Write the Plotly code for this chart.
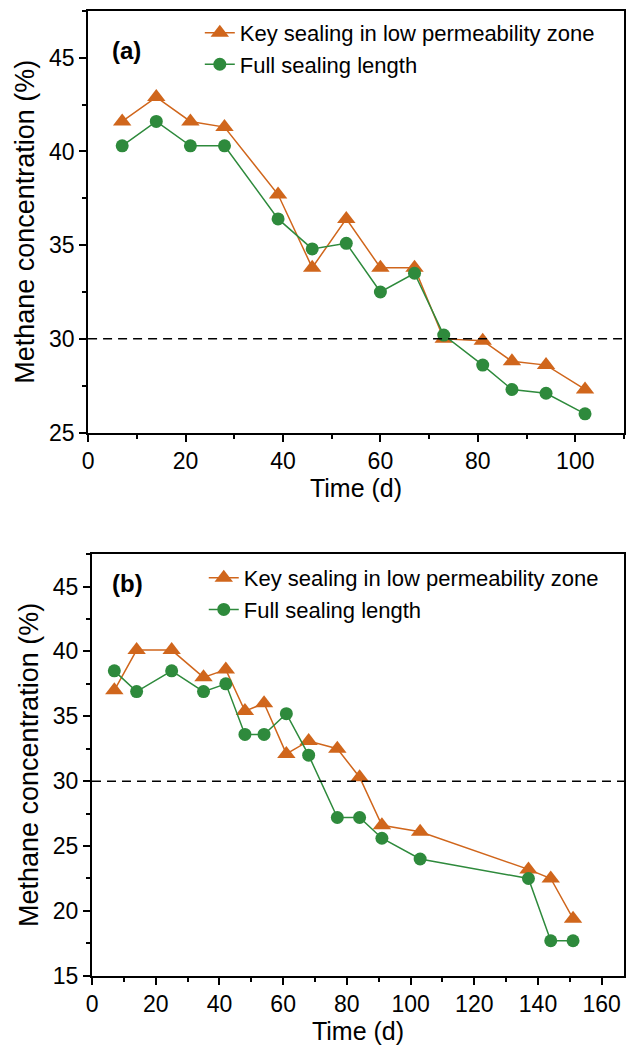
import plotly.graph_objects as go

# ---- data ----
time_a = [7, 14, 21, 28, 39, 46, 53, 60, 67, 73, 81, 87, 94, 102]
key_a = [41.6, 42.9, 41.6, 41.3, 37.7, 33.8, 36.4, 33.8, 33.8, 30.0, 29.9, 28.8, 28.6, 27.3]
full_a = [40.3, 41.6, 40.3, 40.3, 36.4, 34.8, 35.1, 32.5, 33.5, 30.2, 28.6, 27.3, 27.1, 26.0]

time_b = [7, 14, 25, 35, 42, 48, 54, 61, 68, 77, 84, 91, 103, 137, 144, 151]
key_b = [37.0, 40.1, 40.1, 38.0, 38.6, 35.4, 36.0, 32.1, 33.1, 32.5, 30.3, 26.6, 26.1, 23.2, 22.5, 19.4]
full_b = [38.5, 36.9, 38.5, 36.9, 37.5, 33.6, 33.6, 35.2, 32.0, 27.2, 27.2, 25.6, 24.0, 22.5, 17.7, 17.7]

threshold = 30
name_key = "Key sealing in low permeability zone"
name_full = "Full sealing length"
panel_labels = ["(a)", "(b)"]

ORANGE = "#D0661C"
GREEN = "#2E8A3C"
FONT = "Liberation Sans, Arial, sans-serif"
W, H = 626, 1053

fig = go.Figure()

def add_series(x, y, name, color, symbol, size, xa, ya, legend):
    fig.add_trace(go.Scatter(
        x=x, y=y, name=name, mode="lines+markers",
        line=dict(color=color, width=1.5),
        marker=dict(symbol=symbol, size=size, color=color),
        xaxis=xa, yaxis=ya, legend=legend,
    ))

add_series(time_a, key_a, name_key, ORANGE, "triangle-up", 16, "x", "y", "legend")
add_series(time_a, full_a, name_full, GREEN, "circle", 13, "x", "y", "legend")
add_series(time_b, key_b, name_key, ORANGE, "triangle-up", 16, "x2", "y2", "legend2")
add_series(time_b, full_b, name_full, GREEN, "circle", 13, "x2", "y2", "legend2")

for xr, yr in [("x", "y"), ("x2", "y2")]:
    fig.add_shape(type="line", xref=f"{xr} domain", yref=yr, x0=0, x1=1,
                  y0=threshold, y1=threshold,
                  line=dict(color="black", width=1.5, dash="9px,6px"))

axis_common = dict(
    showline=True, linecolor="black", linewidth=2, mirror=True,
    ticks="outside", ticklen=7, tickwidth=1.5, tickcolor="black",
    showgrid=False, zeroline=False,
    tickfont=dict(family=FONT, size=23, color="black"),
)
minor_x = dict(dtick=10, ticks="outside", ticklen=4, tickwidth=1.5, tickcolor="black")
minor_y = dict(dtick=2.5, ticks="outside", ticklen=4, tickwidth=1.5, tickcolor="black")
xt_font = dict(family=FONT, size=25, color="black")
yt_font = dict(family=FONT, size=27, color="black")

fig.update_layout(
    width=W, height=H,
    margin=dict(l=0, r=0, t=0, b=0),
    paper_bgcolor="white", plot_bgcolor="white",
    font=dict(family=FONT, color="black"),
    xaxis=dict(domain=[83 / W, 625 / W], range=[0, 110], dtick=20, anchor="y", minor=minor_x,
               title=dict(text="Time (d)", standoff=0, font=xt_font), **axis_common),
    yaxis=dict(domain=[1 - 438 / H, 1 - 11 / H], range=[25, 47.5], dtick=5, anchor="x", minor=minor_y,
               title=dict(text="Methane concentration (%)", standoff=6, font=yt_font), **axis_common),
    xaxis2=dict(domain=[87 / W, 625 / W], range=[0, 167], dtick=20, anchor="y2", minor=minor_x,
                title=dict(text="Time (d)", standoff=0, font=xt_font), **axis_common),
    yaxis2=dict(domain=[1 - 988 / H, 1 - 561 / H], range=[15, 47.5], dtick=5, anchor="x2", minor=minor_y,
                title=dict(text="Methane concentration (%)", standoff=6, font=yt_font), **axis_common),
    legend=dict(x=196 / W, y=1 - 12 / H, xanchor="left", yanchor="top",
                bgcolor="rgba(0,0,0,0)", font=dict(family=FONT, size=22, color="black"),
                tracegroupgap=0, itemwidth=30),
    legend2=dict(x=200 / W, y=1 - 564 / H, xanchor="left", yanchor="top",
                 bgcolor="rgba(0,0,0,0)", font=dict(family=FONT, size=22, color="black"),
                 tracegroupgap=0, itemwidth=30),
    showlegend=True,
)

for i, lab in enumerate(panel_labels):
    ypix = 51 if i == 0 else 591
    fig.add_annotation(text=f"<b>{lab}</b>", xref="paper", yref="paper",
                       x=105 / W, y=1 - ypix / H, xanchor="left", yanchor="middle",
                       showarrow=False, font=dict(family=FONT, size=24, color="black"))

fig.write_html("out.html")
